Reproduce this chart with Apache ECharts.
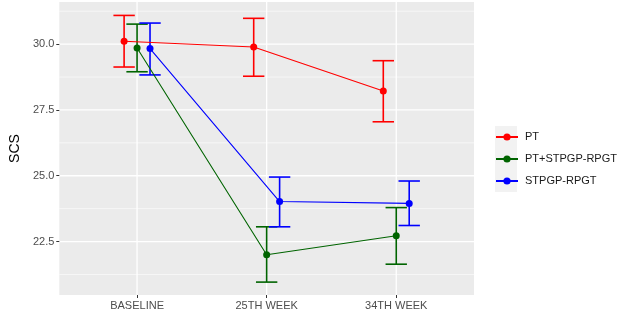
<!DOCTYPE html>
<html>
<head>
<meta charset="utf-8">
<script src="https://cdn.jsdelivr.net/npm/echarts@6/dist/echarts.min.js"></script>
<style>
  html, body { margin: 0; padding: 0; background: #fff; }
  #main { width: 623px; height: 313px; }
</style>
</head>
<body>
<div id="main"></div>
<script>
// data
var categories = ['BASELINE', '25TH WEEK', '34TH WEEK']
var groups = ['PT', 'PT+STPGP-RPGT', 'STPGP-RPGT']
var colors = ['#FF0000', '#006400', '#0000FF']

var ptMean = [30.11, 29.89, 28.22]
var ptLow = [29.13, 28.78, 27.05]
var ptHigh = [31.09, 30.98, 29.37]

var comboMean = [29.85, 22.00, 22.72]
var comboLow = [28.95, 20.96, 21.64]
var comboHigh = [30.76, 23.06, 23.79]

var stpgpMean = [29.83, 24.02, 23.95]
var stpgpLow = [28.83, 23.06, 23.11]
var stpgpHigh = [30.80, 24.95, 24.80]

var yTicks = [22.5, 25.0, 27.5, 30.0]
var yMinor = [21.25, 23.75, 26.25, 28.75, 31.25]

var means = [ptMean, comboMean, stpgpMean]
var lows = [ptLow, comboLow, stpgpLow]
var highs = [ptHigh, comboHigh, stpgpHigh]
var dodge = [-0.1, 0, 0.1]
var capWidth = 0.165
var xMin = 0.4
var xMax = 3.6
var font = 'Liberation Sans, Arial, sans-serif'

function hLines (vals, width) {
  return {
    type: 'custom',
    silent: true,
    z: 0,
    clip: false,
    data: vals.map(function (v) { return [v] }),
    renderItem: function (params, api) {
      var cs = params.coordSys
      var y = api.coord([xMin, api.value(0)])[1]
      return {
        type: 'line',
        shape: { x1: cs.x, y1: y, x2: cs.x + cs.width, y2: y },
        style: { stroke: '#FFFFFF', lineWidth: width }
      }
    }
  }
}

function vLines (vals, width) {
  return {
    type: 'custom',
    silent: true,
    z: 0,
    clip: false,
    data: vals.map(function (v) { return [v] }),
    renderItem: function (params, api) {
      var cs = params.coordSys
      var x = api.coord([api.value(0), 25])[0]
      return {
        type: 'line',
        shape: { x1: x, y1: cs.y, x2: x, y2: cs.y + cs.height },
        style: { stroke: '#FFFFFF', lineWidth: width }
      }
    }
  }
}

var series = [
  hLines(yMinor, 0.6),
  hLines(yTicks, 1.3),
  vLines(categories.map(function (c, i) { return i + 1 }), 1.3)
]

// error bars
groups.forEach(function (g, k) {
  series.push({
    type: 'custom',
    name: g + '_err',
    z: 2,
    silent: true,
    encode: { x: 0, y: [1, 2] },
    data: categories.map(function (c, i) {
      return [i + 1 + dodge[k], lows[k][i], highs[k][i]]
    }),
    renderItem: function (params, api) {
      var x = api.value(0)
      var top = api.coord([x, api.value(2)])
      var bot = api.coord([x, api.value(1)])
      var half = api.size([capWidth, 0])[0] / 2
      var st = { stroke: colors[k], lineWidth: 1.6 }
      return {
        type: 'group',
        children: [
          { type: 'line', shape: { x1: top[0], y1: top[1], x2: bot[0], y2: bot[1] }, style: st },
          { type: 'line', shape: { x1: top[0] - half, y1: top[1], x2: top[0] + half, y2: top[1] }, style: st },
          { type: 'line', shape: { x1: bot[0] - half, y1: bot[1], x2: bot[0] + half, y2: bot[1] }, style: st }
        ]
      }
    }
  })
})

// lines + points
groups.forEach(function (g, k) {
  series.push({
    type: 'line',
    name: g,
    z: 3,
    color: colors[k],
    symbol: 'circle',
    symbolSize: 7,
    lineStyle: { width: 1.1, color: colors[k] },
    itemStyle: { color: colors[k] },
    data: categories.map(function (c, i) {
      return [i + 1 + dodge[k], means[k][i]]
    })
  })
})

var chart = echarts.init(document.getElementById('main'), null, { renderer: 'canvas' })
chart.setOption({
  animation: false,
  backgroundColor: '#FFFFFF',
  textStyle: { fontFamily: font },
  grid: {
    left: 47,
    right: 149,
    top: 2,
    bottom: 18,
    show: true,
    backgroundColor: '#EBEBEB',
    borderWidth: 0
  },
  xAxis: {
    type: 'value',
    min: xMin,
    max: xMax,
    axisLine: { show: false },
    splitLine: { show: false },
    axisTick: {
      show: true,
      customValues: [1, 2, 3],
      length: 3,
      lineStyle: { color: '#333333', width: 1 }
    },
    axisLabel: {
      customValues: [1, 2, 3],
      formatter: function (v) { return categories[Math.round(v) - 1] },
      color: '#4D4D4D',
      fontSize: 11,
      fontFamily: font,
      margin: 5
    }
  },
  yAxis: {
    type: 'value',
    min: 20.47,
    max: 31.6,
    name: 'SCS',
    nameLocation: 'middle',
    nameRotate: 90,
    nameGap: 37,
    nameTextStyle: { color: '#000000', fontSize: 14, fontFamily: font },
    axisLine: { show: false },
    splitLine: { show: false },
    axisTick: {
      show: true,
      customValues: yTicks,
      length: 3,
      lineStyle: { color: '#333333', width: 1 }
    },
    axisLabel: {
      customValues: yTicks,
      formatter: function (v) { return v.toFixed(1) },
      color: '#4D4D4D',
      fontSize: 11,
      fontFamily: font,
      margin: 5
    }
  },
  legend: {
    orient: 'vertical',
    left: 495,
    top: 126,
    padding: 0,
    itemGap: 0,
    itemWidth: 22,
    itemHeight: 9,
    data: groups,
    textStyle: { color: '#1A1A1A', fontSize: 11, fontFamily: font, lineHeight: 22, padding: [0, 0, 0, 2] }
  },
  graphic: [
    { type: 'rect', left: 495, top: 126, z: -1, shape: { width: 22, height: 66 }, style: { fill: '#F2F2F2' } }
  ],
  series: series
})
</script>
</body>
</html>
